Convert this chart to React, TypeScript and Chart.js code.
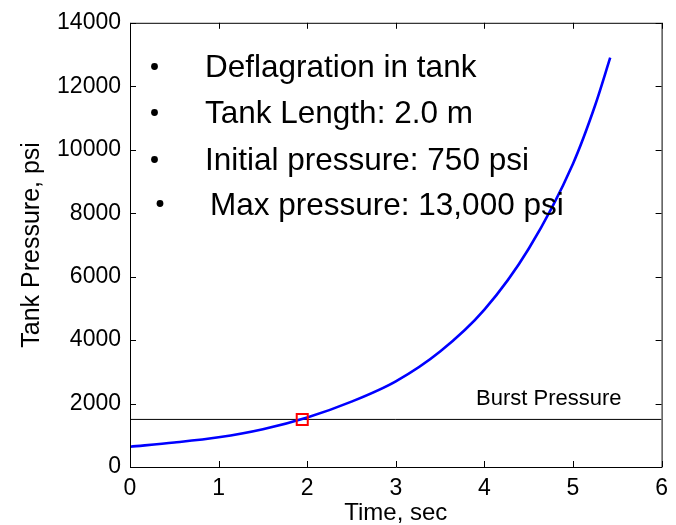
import React, { useEffect, useRef } from 'react';
import { Chart, registerables } from 'chart.js';

Chart.register(...registerables);

// ---- data ----
const timeSec = [0, 0.5, 1, 1.5, 2, 2.5, 3, 3.5, 4, 4.5, 5, 5.25, 5.42];
const pressurePsi = [640, 770, 935, 1190, 1560, 2060, 2700, 3640, 4960, 6880, 9560, 11400, 12900];
const burstPressure = 1500;
const burstTime = 1.944;
const xTicks = [0, 1, 2, 3, 4, 5, 6];
const yTicks = [0, 2000, 4000, 6000, 8000, 10000, 12000, 14000];
const notes = ['Deflagration in tank', 'Tank Length: 2.0 m', 'Initial pressure: 750 psi', 'Max pressure: 13,000 psi'];
const burstLabel = 'Burst Pressure';

const FONT = '"Liberation Sans", Arial, sans-serif';

const framePlugin = {
  id: 'frame',
  afterDraw(chart: any) {
    const { ctx, chartArea: a, scales } = chart;
    const xs = scales.x;
    const ys = scales.y;
    ctx.save();
    ctx.strokeStyle = '#000';
    ctx.lineWidth = 1;
    ctx.beginPath();
    ctx.rect(a.left + 0.5, a.top + 0.5, a.right - a.left, a.bottom - a.top);
    ctx.stroke();
    const tl = 6;
    ctx.beginPath();
    xTicks.forEach((v) => {
      const p = Math.round(xs.getPixelForValue(v)) + 0.5;
      ctx.moveTo(p, a.bottom);
      ctx.lineTo(p, a.bottom - tl);
      ctx.moveTo(p, a.top);
      ctx.lineTo(p, a.top + tl);
    });
    yTicks.forEach((v) => {
      const p = Math.round(ys.getPixelForValue(v)) + 0.5;
      ctx.moveTo(a.left, p);
      ctx.lineTo(a.left + tl, p);
      ctx.moveTo(a.right, p);
      ctx.lineTo(a.right - tl, p);
    });
    ctx.stroke();

    // annotations
    ctx.fillStyle = '#000';
    ctx.font = `31.5px ${FONT}`;
    ctx.textBaseline = 'alphabetic';
    ctx.textAlign = 'left';
    const baselines = [77, 123, 170, 215];
    const bulletY = [66.5, 112.5, 159.5, 203.5];
    const bulletX = [154.5, 154.5, 154.5, 160];
    const textX = [205, 205, 205, 210];
    notes.forEach((t, i) => {
      ctx.beginPath();
      ctx.arc(bulletX[i], bulletY[i], 3.4, 0, Math.PI * 2);
      ctx.fill();
      ctx.fillText(t, textX[i], baselines[i]);
    });

    ctx.font = `22px ${FONT}`;
    const by = ys.getPixelForValue(burstPressure);
    ctx.fillText(burstLabel, 476, by - 14.5);
    ctx.restore();
  },
};

export default function App() {
  const ref = useRef<HTMLCanvasElement | null>(null);
  useEffect(() => {
    document.body.style.margin = '0';
    const canvas = ref.current!;
    const chart = new Chart(canvas, {
      type: 'line',
      data: {
        datasets: [
          {
            label: 'marker',
            data: [{ x: burstTime, y: burstPressure }],
            showLine: false,
            pointStyle: 'rect',
            pointRadius: 7.8,
            pointBorderColor: '#FF0000',
            pointBackgroundColor: 'rgba(0,0,0,0)',
            pointBorderWidth: 2,
            borderColor: '#FF0000',
            order: 0,
          },
          {
            label: 'pressure',
            data: timeSec.map((t, i) => ({ x: t, y: pressurePsi[i] })),
            borderColor: '#0000FF',
            borderWidth: 2.6,
            pointRadius: 0,
            cubicInterpolationMode: 'monotone',
            fill: false,
            order: 1,
          },
          {
            label: 'burst',
            data: [{ x: 0, y: burstPressure }, { x: 6, y: burstPressure }],
            borderColor: '#000',
            borderWidth: 1,
            pointRadius: 0,
            fill: false,
            order: 2,
          },
        ],
      },
      options: {
        animation: false,
        responsive: false,
        devicePixelRatio: 1,
        layout: { padding: { top: 20, right: 11, left: 0, bottom: 0 } },
        plugins: { legend: { display: false }, tooltip: { enabled: false } },
        scales: {
          x: {
            type: 'linear',
            min: 0,
            max: 6,
            afterBuildTicks: (s: any) => { s.ticks = xTicks.map((v) => ({ value: v })); },
            afterFit: (s: any) => { s.height = 58; },
            grid: { display: false, drawTicks: false },
            border: { display: false },
            ticks: { color: '#000', font: { family: FONT, size: 23 }, padding: 8, callback: (v: any) => String(v) },
            title: {
              display: true,
              text: 'Time, sec',
              color: '#000',
              font: { family: FONT, size: 24, lineHeight: 1 },
              padding: { top: 0, bottom: 0 },
            },
          },
          y: {
            type: 'linear',
            min: 0,
            max: 14000,
            afterBuildTicks: (s: any) => { s.ticks = yTicks.map((v) => ({ value: v })); },
            afterFit: (s: any) => { s.width = 130; },
            grid: { display: false, drawTicks: false },
            border: { display: false },
            ticks: { color: '#000', font: { family: FONT, size: 23 }, padding: 9, callback: (v: any) => String(v) },
            title: {
              display: true,
              text: 'Tank Pressure, psi',
              color: '#000',
              font: { family: FONT, size: 25, lineHeight: 1 },
              padding: { top: 19.5, bottom: 0 },
            },
          },
        },
      },
      plugins: [framePlugin],
    } as any);
    return () => chart.destroy();
  }, []);
  return (
    <div style={{ width: 676, height: 525, background: '#fff' }}>
      <canvas ref={ref} width={676} height={525} style={{ display: 'block', width: 676, height: 525 }} />
    </div>
  );
}
